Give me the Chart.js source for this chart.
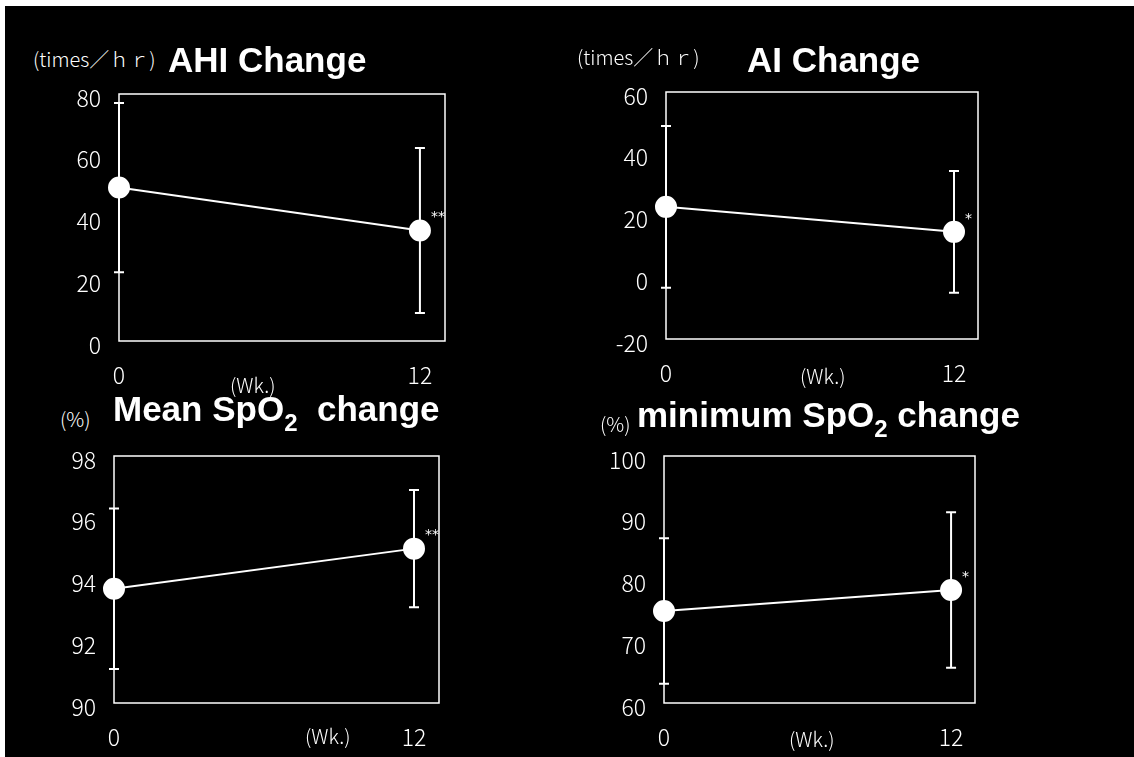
<!DOCTYPE html>
<html lang="en">
<head>
    <meta charset="UTF-8">
    <title>AHI / AI / SpO2 change</title>
    <script src="https://cdn.jsdelivr.net/npm/chart.js"></script>
    <style>
        html, body {
            margin: 0;
            padding: 0;
            background: #000;
            overflow: hidden;
        }
        #wrap {
            position: fixed;
            left: 0;
            top: 0;
            width: 100vw;
            height: 100vh;
            min-width: 1134px;
            min-height: 757px;
            background: #000;
            overflow: hidden;
            color: #fff;
        }
        .frameTop { position: absolute; left: 0; top: 0; width: 1134px; height: 6px; background: #fff; }
        .frameLeft { position: absolute; left: 0; top: 0; width: 5px; height: 757px; background: #fff; }
        canvas { position: absolute; }
        .title {
            position: absolute;
            font-family: "Liberation Sans", Arial, sans-serif;
            font-weight: bold;
            font-size: 35px;
            line-height: 35px;
            white-space: nowrap;
        }
        .title sub {
            font-size: 24px;
            vertical-align: -10px;
            line-height: 0;
        }
        .unit, .wk {
            position: absolute;
            font-family: "Noto Sans CJK JP", sans-serif;
            font-weight: 300;
            font-size: 20px;
            line-height: 20px;
            white-space: nowrap;
        }
    </style>
</head>
<body>
<div id="wrap">
    <div class="frameTop"></div>
    <div class="frameLeft"></div>

    <canvas id="c1"></canvas>
    <canvas id="c2"></canvas>
    <canvas id="c3"></canvas>
    <canvas id="c4"></canvas>

    <div class="unit" style="left:33px; top:49px;">(times／ｈｒ)</div>
    <div class="title" style="left:168px; top:42px;">AHI Change</div>
    <div class="wk" style="left:230px; top:375px;">(Wk.)</div>

    <div class="unit" style="left:577px; top:47px;">(times／ｈｒ)</div>
    <div class="title" style="left:747px; top:42px;">AI Change</div>
    <div class="wk" style="left:800px; top:366px;">(Wk.)</div>

    <div class="unit" style="left:60px; top:409px;">(%)</div>
    <div class="title" style="left:113px; top:391px;">Mean SpO<sub>2</sub>&nbsp; change</div>
    <div class="wk" style="left:305px; top:726px;">(Wk.)</div>

    <div class="unit" style="left:600px; top:414px;">(%)</div>
    <div class="title" style="left:637px; top:397px;">minimum SpO<sub>2</sub> change</div>
    <div class="wk" style="left:789px; top:729px;">(Wk.)</div>
</div>

<script>
    // x values (weeks)
    const weeks = [0, 12];
    const weekTicks = [0, 12];

    // AHI (times/hr)
    const ahiMean = [49.7, 35.8];
    const ahiSd = [27.4, 26.7];
    const ahiSig = ['', '**'];

    // AI (times/hr)
    const aiMean = [22.8, 14.7];
    const aiSd = [26.2, 19.7];
    const aiSig = ['', '*'];

    // Mean SpO2 (%)
    const meanSpo2 = [93.7, 95.0];
    const meanSpo2Sd = [2.6, 1.9];
    const meanSpo2Sig = ['', '**'];

    // minimum SpO2 (%)
    const minSpo2 = [74.9, 78.3];
    const minSpo2Sd = [11.8, 12.6];
    const minSpo2Sig = ['', '*'];

    // y axis ranges / steps
    const ahiAxis = [0, 80, 20];
    const aiAxis = [-20, 60, 20];
    const meanAxis = [90, 98, 2];
    const minAxis = [60, 100, 10];

    const Y_W = 80, X_H = 50, PAD_T = 20, PAD_R = 40;
    const tickFont = { family: '"Noto Sans CJK JP", sans-serif', size: 23, weight: 300 };

    // box around plot + error bars + significance marks
    const errorBars = {
        id: 'errorBars',
        beforeDatasetsDraw(chart, args, opts) {
            const { ctx, chartArea: a, scales: { x, y } } = chart;
            ctx.save();
            ctx.strokeStyle = '#fff';
            ctx.lineWidth = 1.5;
            ctx.strokeRect(a.left, a.top, a.width, a.height);
            ctx.lineWidth = 2;
            opts.mean.forEach((m, i) => {
                const px = x.getPixelForValue(weeks[i]);
                const top = y.getPixelForValue(m + opts.sd[i]);
                const bot = y.getPixelForValue(m - opts.sd[i]);
                ctx.beginPath();
                ctx.moveTo(px, top); ctx.lineTo(px, bot);
                ctx.moveTo(px - 5, top); ctx.lineTo(px + 5, top);
                ctx.moveTo(px - 5, bot); ctx.lineTo(px + 5, bot);
                ctx.stroke();
            });
            ctx.restore();
        },
        afterDatasetsDraw(chart, args, opts) {
            const { ctx, scales: { x, y } } = chart;
            ctx.save();
            ctx.fillStyle = '#fff';
            ctx.font = '14px "DejaVu Sans", sans-serif';
            ctx.textBaseline = 'middle';
            opts.sig.forEach((s, i) => {
                if (!s) return;
                ctx.fillText(s, x.getPixelForValue(weeks[i]) + 11, y.getPixelForValue(opts.mean[i]) - 13);
            });
            ctx.restore();
        }
    };

    function makePanel(id, box, mean, sd, sig, axis) {
        const [x0, y0, x1, y1] = box;
        const el = document.getElementById(id);
        el.width = x1 - x0 + Y_W + PAD_R;
        el.height = y1 - y0 + PAD_T + X_H;
        el.style.left = (x0 - Y_W) + 'px';
        el.style.top = (y0 - PAD_T) + 'px';

        new Chart(el, {
            type: 'line',
            data: {
                datasets: [{
                    data: weeks.map((w, i) => ({ x: w, y: mean[i] })),
                    borderColor: '#fff',
                    borderWidth: 2,
                    pointRadius: 10,
                    pointBackgroundColor: '#fff',
                    pointBorderColor: '#fff',
                    tension: 0,
                    clip: false
                }]
            },
            options: {
                responsive: false,
                animation: false,
                events: [],
                layout: { padding: { top: PAD_T, right: PAD_R, left: 0, bottom: 0 } },
                plugins: {
                    legend: { display: false },
                    tooltip: { enabled: false },
                    errorBars: { mean: mean, sd: sd, sig: sig }
                },
                scales: {
                    x: {
                        type: 'linear',
                        min: 0,
                        max: 13,
                        grid: { display: false, drawTicks: false },
                        border: { display: false },
                        ticks: { color: '#fff', font: tickFont, padding: 20, maxRotation: 0 },
                        afterBuildTicks: s => { s.ticks = weekTicks.map(v => ({ value: v })); },
                        afterFit: s => { s.height = X_H; s.paddingLeft = 0; s.paddingRight = 0; }
                    },
                    y: {
                        min: axis[0],
                        max: axis[1],
                        grid: { display: false, drawTicks: false },
                        border: { display: false },
                        ticks: { color: '#fff', font: tickFont, stepSize: axis[2], padding: 18, labelOffset: 4 },
                        afterFit: s => { s.width = Y_W; s.paddingTop = 0; s.paddingBottom = 0; }
                    }
                }
            },
            plugins: [errorBars]
        });
    }

    makePanel('c1', [119, 94, 445, 341], ahiMean, ahiSd, ahiSig, ahiAxis);
    makePanel('c2', [666, 92, 978, 339], aiMean, aiSd, aiSig, aiAxis);
    makePanel('c3', [114, 456, 439, 703], meanSpo2, meanSpo2Sd, meanSpo2Sig, meanAxis);
    makePanel('c4', [664, 456, 975, 703], minSpo2, minSpo2Sd, minSpo2Sig, minAxis);
</script>
</body>
</html>
